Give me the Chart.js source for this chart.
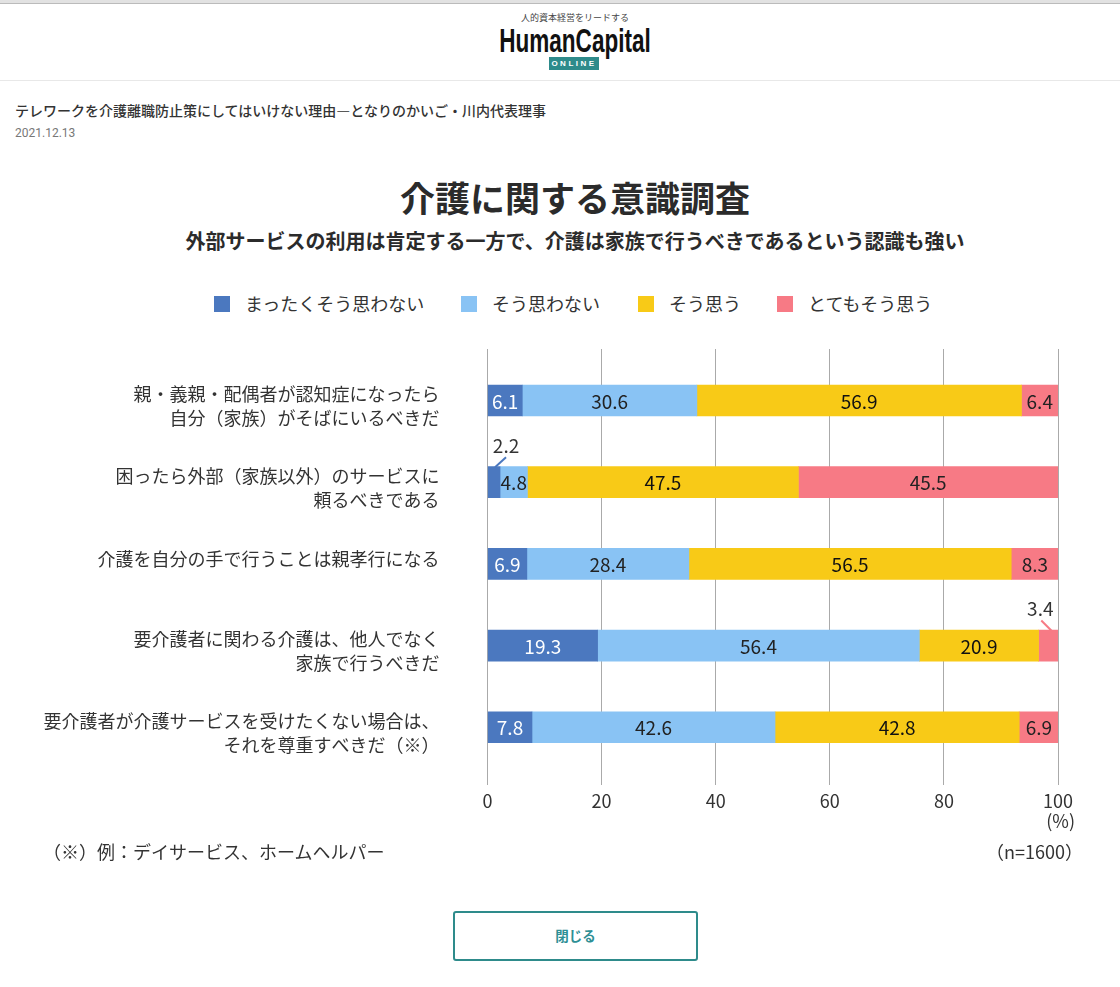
<!DOCTYPE html>
<html lang="ja">
<head>
<meta charset="utf-8">
<title>介護に関する意識調査</title>
<script src="https://cdn.jsdelivr.net/npm/chart.js@4"></script>
<style>
html,body{margin:0;padding:0;background:#fff;}
body{width:1120px;height:987px;position:relative;overflow:hidden;font-family:"Noto Sans CJK JP","Noto Sans",sans-serif;color:#333;}
.abs{position:absolute;white-space:nowrap;line-height:1;}
#topbar{position:absolute;left:0;top:0;width:1120px;height:3px;background:#e2e2e2;border-bottom:1px solid #bbb;}
#headLine{position:absolute;left:0;top:80px;width:1120px;height:1px;background:#e8e8e8;}
#tagline{left:400px;width:350px;text-align:center;top:13px;font-size:9px;color:#444;}
#logo{left:400px;width:350px;text-align:center;top:24px;font-family:"Liberation Sans Narrow","Liberation Sans",sans-serif;font-weight:700;font-size:33px;color:#111;transform:scaleX(.683);}
#online{left:549px;top:57px;width:50px;height:13px;background:#2e8b8b;color:#fff;font-family:"Liberation Sans",sans-serif;font-size:8px;font-weight:700;text-align:center;line-height:13px;letter-spacing:2.5px;}
#article{left:15px;top:103px;font-size:14px;font-weight:500;color:#333;}
#date{left:15px;top:127px;font-size:12px;color:#777;font-family:Roboto,sans-serif;}
#title{left:0;width:1150px;text-align:center;top:179px;font-size:35px;font-weight:700;color:#2b2b2b;}
#subtitle{left:0;width:1150px;text-align:center;top:231px;font-size:20px;font-weight:700;color:#2b2b2b;}
#legend span{position:absolute;top:294px;white-space:nowrap;font-size:18px;line-height:18px;letter-spacing:0;}
#legend i{position:absolute;top:296px;width:16px;height:16px;}
#pct{right:45px;top:811px;font-size:18px;}
#note{left:43px;top:842px;font-size:18px;}
#nval{right:37px;top:842px;font-size:18px;}
#closeBtn{position:absolute;left:453px;top:911px;width:241px;height:46px;border:2px solid #2e8b8b;border-radius:3px;text-align:center;line-height:44px;font-size:13.5px;font-weight:700;color:#2e8f95;background:#fff;}
#chart{position:absolute;left:0;top:0;}
</style>
</head>
<body>
<div id="topbar"></div>
<div class="abs" id="tagline">人的資本経営をリードする</div>
<div class="abs" id="logo">HumanCapital</div>
<div class="abs" id="online">ONLINE</div>
<div id="headLine"></div>
<div class="abs" id="article">テレワークを介護離職防止策にしてはいけない理由―となりのかいご・川内代表理事</div>
<div class="abs" id="date">2021.12.13</div>
<div class="abs" id="title">介護に関する意識調査</div>
<div class="abs" id="subtitle">外部サービスの利用は肯定する一方で、介護は家族で行うべきであるという認識も強い</div>
<div id="legend"></div>
<canvas id="chart" width="1120" height="987"></canvas>
<div class="abs" id="pct">(%)</div>
<div class="abs" id="note">（※）例：デイサービス、ホームヘルパー</div>
<div class="abs" id="nval">（n=1600）</div>
<div id="closeBtn">閉じる</div>
<script>
const categories = [
  ['親・義親・配偶者が認知症になったら', '自分（家族）がそばにいるべきだ'],
  ['困ったら外部（家族以外）のサービスに', '頼るべきである'],
  ['介護を自分の手で行うことは親孝行になる'],
  ['要介護者に関わる介護は、他人でなく', '家族で行うべきだ'],
  ['要介護者が介護サービスを受けたくない場合は、', 'それを尊重すべきだ（※）']
];
const seriesNames = ['まったくそう思わない', 'そう思わない', 'そう思う', 'とてもそう思う'];
const stronglyDisagree = [6.1, 2.2, 6.9, 19.3, 7.8];
const disagree = [30.6, 4.8, 28.4, 56.4, 42.6];
const agree = [56.9, 47.5, 56.5, 20.9, 42.8];
const stronglyAgree = [6.4, 45.5, 8.3, 3.4, 6.9];
const xTicks = [0, 20, 40, 60, 80, 100];

const colors = ['#4b78bf', '#89c3f4', '#f8ca17', '#f77a85'];
const labelColors = ['#fff', '#222', '#111', '#222'];
const FONT = '"Noto Sans CJK JP","Noto Sans",sans-serif';

// html legend, the gaps in the original are wider than the built-in one allows
const legendX = [214, 461, 638, 777];
const legendEl = document.getElementById('legend');
seriesNames.forEach((name, i) => {
  const box = document.createElement('i');
  box.style.left = legendX[i] + 'px';
  box.style.background = colors[i];
  const txt = document.createElement('span');
  txt.style.left = (legendX[i] + 31) + 'px';
  txt.textContent = name;
  legendEl.append(box, txt);
});

// labels too small for their segment sit above the bar with a leader line
const leaders = {
  '0-1': {dx: 12, dy: -36, from: [1, -15], to: [12, -25]},
  '3-3': {dx: -8, dy: -37, from: [4, -14], to: [-7, -25]}
};

const valueLabels = {
  id: 'valueLabels',
  afterDatasetsDraw(chart) {
    const ctx = chart.ctx;
    ctx.save();
    ctx.font = '19px ' + FONT;
    ctx.textAlign = 'center';
    ctx.textBaseline = 'middle';
    chart.data.datasets.forEach((ds, di) => {
      chart.getDatasetMeta(di).data.forEach((bar, i) => {
        const cx = (bar.x + bar.base) / 2;
        const lead = leaders[di + '-' + i];
        if (lead) {
          ctx.strokeStyle = colors[di];
          ctx.lineWidth = 2;
          ctx.beginPath();
          ctx.moveTo(cx + lead.from[0], bar.y + lead.from[1]);
          ctx.lineTo(cx + lead.to[0], bar.y + lead.to[1]);
          ctx.stroke();
          ctx.fillStyle = '#333';
          ctx.fillText(ds.data[i].x.toFixed(1), cx + lead.dx, bar.y + lead.dy);
        } else {
          ctx.fillStyle = labelColors[di];
          ctx.fillText(ds.data[i].x.toFixed(1), cx, bar.y + 1);
        }
      });
    });
    ctx.restore();
  }
};

const allSeries = [stronglyDisagree, disagree, agree, stronglyAgree];

// the original labels sit a little off their bars: two-liners lower, the single line higher
const labelShift = [0.073, 0.073, -0.06, 0.073, 0.073];

new Chart(document.getElementById('chart'), {
  type: 'bar',
  data: {
    datasets: allSeries.map((vals, s) => ({
      label: seriesNames[s],
      data: vals.map((v, i) => ({x: v, y: i})),
      backgroundColor: colors[s],
      barThickness: 31
    }))
  },
  options: {
    indexAxis: 'y',
    responsive: false,
    animation: false,
    devicePixelRatio: 1,
    layout: {padding: {top: 349, right: 62, left: 0, bottom: 0}},
    plugins: {legend: {display: false}, tooltip: {enabled: false}},
    scales: {
      x: {
        type: 'linear',
        stacked: true,
        min: 0,
        max: 100,
        afterBuildTicks: s => { s.ticks = xTicks.map(value => ({value})); },
        afterFit: s => { s.height = 202; },
        grid: {color: '#aaa', lineWidth: 1, drawTicks: false},
        border: {display: false},
        ticks: {color: '#333', font: {size: 18, family: FONT}, padding: 5, maxRotation: 0}
      },
      y: {
        type: 'linear',
        stacked: true,
        reverse: true,
        offset: false, // bar charts switch this on for the index axis, it would widen the range
        min: -0.63,
        max: 4.707,
        afterBuildTicks: s => { s.ticks = categories.map((c, i) => ({value: i + labelShift[i]})); },
        afterFit: s => { s.width = 487.5; },
        grid: {display: false},
        border: {display: false},
        ticks: {
          autoSkip: false,
          crossAlign: 'near',
          padding: 40,
          color: '#333',
          font: {size: 18, family: FONT, lineHeight: 1.33},
          callback: (value, i) => categories[i]
        }
      }
    }
  },
  plugins: [valueLabels]
});
</script>
</body>
</html>
